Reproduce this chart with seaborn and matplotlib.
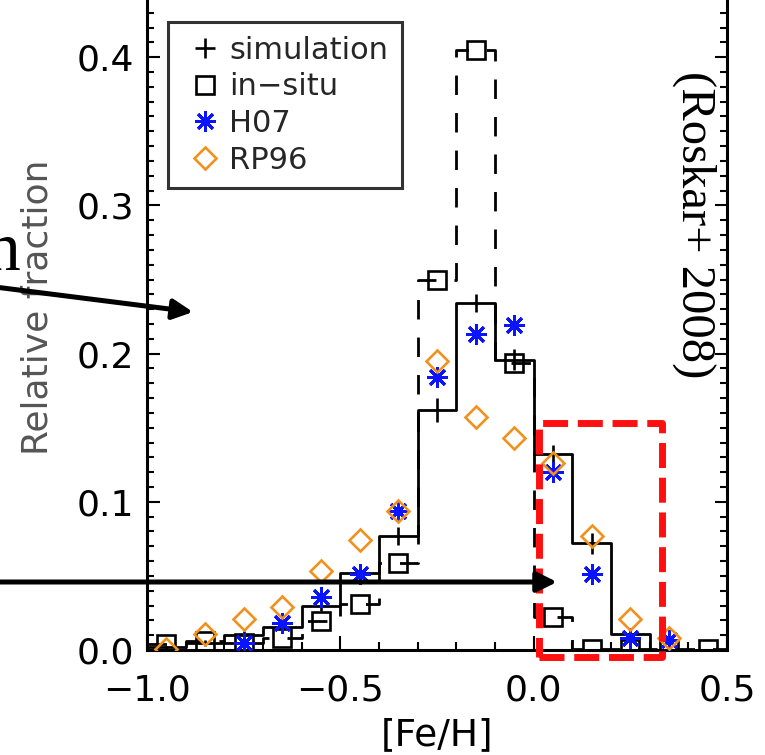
import warnings
warnings.filterwarnings("ignore")
import numpy as np
import pandas as pd
import matplotlib
matplotlib.use("Agg")
import matplotlib.pyplot as plt
import seaborn as sns
from matplotlib.lines import Line2D
from matplotlib.patches import Rectangle, FancyArrowPatch
from matplotlib.ticker import MultipleLocator, FuncFormatter

# ---------------- data ----------------
bin_edges = [-1.0, -0.9, -0.8, -0.7, -0.6, -0.5, -0.4, -0.3, -0.2, -0.1,
             0.0, 0.1, 0.2, 0.3, 0.4, 0.5]
bin_centers = [-0.95, -0.85, -0.75, -0.65, -0.55, -0.45, -0.35, -0.25,
               -0.15, -0.05, 0.05, 0.15, 0.25, 0.35, 0.45]
simulation = [0.002, 0.0045, 0.010, 0.0157, 0.030, 0.052, 0.077, 0.162,
              0.234, 0.196, 0.132, 0.072, 0.011, 0.0, 0.0]
simulation_err = [0.001, 0.002, 0.003, 0.003, 0.004, 0.005, 0.006, 0.008,
                  0.006, 0.007, 0.006, 0.007, 0.003, 0.0, 0.0]
in_situ = [0.004, 0.006, 0.005, 0.008, 0.0195, 0.031, 0.059, 0.250,
           0.405, 0.194, 0.022, 0.001, 0.001, 0.001, 0.001]
h07_feh = [-0.75, -0.65, -0.55, -0.45, -0.35, -0.25, -0.15, -0.05,
           0.05, 0.15, 0.25, 0.35]
h07 = [0.005, 0.018, 0.036, 0.051, 0.094, 0.184, 0.213, 0.219,
       0.120, 0.051, 0.008, 0.007]
rp96_feh = [-0.95, -0.85, -0.75, -0.65, -0.55, -0.45, -0.35, -0.25,
            -0.15, -0.05, 0.05, 0.15, 0.25, 0.35]
rp96 = [0.001, 0.011, 0.021, 0.029, 0.053, 0.074, 0.094, 0.195,
        0.157, 0.143, 0.126, 0.077, 0.021, 0.008]
legend_labels = ["simulation", "in\u2212situ", "H07", "RP96"]
x_ticks = [-1.0, -0.5, 0.0, 0.5]
y_ticks = [0.0, 0.1, 0.2, 0.3, 0.4]

sim_df = pd.DataFrame({"feh": bin_centers, "frac": simulation, "err": simulation_err})
insitu_df = pd.DataFrame({"feh": bin_centers, "frac": in_situ})
h07_df = pd.DataFrame({"feh": h07_feh, "frac": h07})
rp96_df = pd.DataFrame({"feh": rp96_feh, "frac": rp96})

# ---------------- figure ----------------
W, H = 765, 755
sns.set_style("ticks")
plt.rcParams["font.family"] = ["DejaVu Sans"]
fig = plt.figure(figsize=(W / 100, H / 100), dpi=100)

ax_left, ax_right = 147, 727        # pixels
ax_bottom, ax_top = 650, -31.7      # pixels from top
ax = fig.add_axes([ax_left / W, 1 - ax_bottom / H,
                   (ax_right - ax_left) / W, (ax_bottom - ax_top) / H])

BLACK = "black"
ORANGE = "#F0921E"
BLUE = "#0A14FF"

# simulation histogram (solid)
sns.histplot(data=sim_df, x="feh", weights="frac", bins=bin_edges,
             element="step", fill=False, color=BLACK, linewidth=2.0, ax=ax,
             zorder=3)
ax.errorbar(sim_df["feh"], sim_df["frac"], yerr=sim_df["err"], fmt="none",
            ecolor=BLACK, elinewidth=1.9, capsize=0, zorder=3)

# in-situ histogram (dashed)
sns.histplot(data=insitu_df, x="feh", weights="frac", bins=bin_edges,
             element="step", fill=False, color=BLACK, linewidth=2.0,
             linestyle=(0, (7, 6.5)), ax=ax, zorder=3)
sns.lineplot(data=insitu_df, x="feh", y="frac", linestyle="none", marker="s",
             markersize=12.5, markerfacecolor="none", markeredgecolor=BLACK,
             markeredgewidth=1.9, ax=ax, zorder=4)

# H07
sns.lineplot(data=h07_df, x="feh", y="frac", linestyle="none", marker=(8, 2, 0),
             markersize=15, markeredgecolor=BLUE, color=BLUE,
             markeredgewidth=2.1, ax=ax, zorder=5)
# RP96
sns.lineplot(data=rp96_df, x="feh", y="frac", linestyle="none", marker="D",
             markersize=11, markerfacecolor="none", markeredgecolor=ORANGE,
             markeredgewidth=1.9, ax=ax, zorder=6)

ax.set_xlim(-1.0, 0.5)
ax.set_ylim(0.0, 0.46)
ax.set_xticks(x_ticks)
ax.set_yticks(y_ticks)
ax.xaxis.set_minor_locator(MultipleLocator(0.1))
ax.yaxis.set_minor_locator(MultipleLocator(0.01))
fmt = FuncFormatter(lambda v, p: ("%.1f" % v).replace("-", "\u2212"))
ax.xaxis.set_major_formatter(fmt)
ax.yaxis.set_major_formatter(fmt)
for s in ax.spines.values():
    s.set_linewidth(2.2)
    s.set_color(BLACK)
ax.tick_params(which="both", direction="in", top=True, right=True,
               width=1.5, color=BLACK, labelsize=26, labelcolor=BLACK)
ax.tick_params(axis="x", which="major", length=10, pad=17)
ax.tick_params(axis="x", which="minor", length=6)
ax.tick_params(axis="y", which="major", length=9, pad=9)
ax.tick_params(axis="y", which="minor", length=5)

ax_h = ax_bottom - ax_top
ax_w = ax_right - ax_left
ax.set_xlabel("[Fe/H]", fontsize=27, color=BLACK)
ax.xaxis.set_label_coords(0.5, (ax_bottom - 717) / ax_h)
ax.set_ylabel("Relative fraction", fontsize=26, color="#555555")
ax.yaxis.set_label_coords((54 - ax_left) / ax_w, (ax_bottom - 307) / ax_h)

# legend
handles = [
    Line2D([], [], linestyle="none", marker="+", markersize=15,
           markeredgewidth=1.9, color=BLACK),
    Line2D([], [], linestyle="none", marker="s", markersize=13.5,
           markerfacecolor="none", markeredgecolor=BLACK, markeredgewidth=1.9),
    Line2D([], [], linestyle="none", marker=(8, 2, 0), markersize=15,
           markeredgecolor=BLUE, markeredgewidth=2.1),
    Line2D([], [], linestyle="none", marker="D", markersize=11.5,
           markerfacecolor="none", markeredgecolor=ORANGE, markeredgewidth=1.9),
]
leg = fig.legend(handles, legend_labels, loc="upper left",
                 bbox_to_anchor=(168 / W, 1 - 22 / H), bbox_transform=fig.transFigure,
                 frameon=True, fancybox=False, shadow=False, fontsize=22,
                 borderpad=0.45, labelspacing=0.25, handlelength=1.5,
                 handletextpad=0.05, borderaxespad=0.0)
leg.get_frame().set_edgecolor(BLACK)
leg.get_frame().set_linewidth(2.2)
leg.set_zorder(20)

# ---------------- overlays (slide annotations) ----------------
def fx(px):
    return px / W

def fy(py):
    return 1 - py / H

arrow_kw = dict(arrowstyle="-|>", lw=3.6, color=BLACK, mutation_scale=30,
                shrinkA=0, shrinkB=0)
fig.add_artist(FancyArrowPatch(
    (fx(-5), fy(287)), (fx(193), fy(312)), transform=fig.transFigure,
    zorder=30, **arrow_kw))
fig.add_artist(FancyArrowPatch(
    (fx(-5), fy(582)), (fx(557), fy(582)), transform=fig.transFigure,
    zorder=30, **arrow_kw))

rect = Rectangle((fx(539), fy(657)), fx(662) - fx(539), fy(423) - fy(657),
                 transform=fig.transFigure, fill=False, edgecolor="#FF1010",
                 linewidth=5, linestyle=(0, (3.6, 1.4)), joinstyle="round",
                 capstyle="butt", zorder=25)
fig.add_artist(rect)

fig.text(fx(694), fy(225), "(Roskar+ 2008)", rotation=-90, ha="center",
         va="center", fontsize=35, family="Liberation Serif", color=BLACK)
fig.text(fx(20), fy(270), "n", ha="right", va="baseline", fontsize=50,
         family="Liberation Serif", color=BLACK)

fig.savefig("out.png", dpi=100)
